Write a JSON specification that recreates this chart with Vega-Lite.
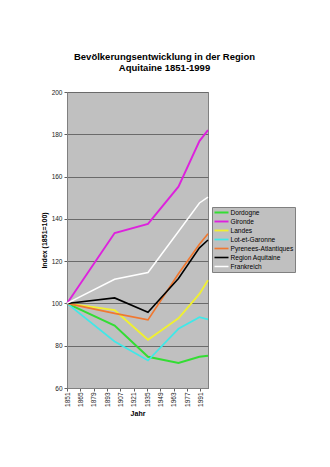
{
  "$schema": "https://vega.github.io/schema/vega-lite/v6.json",
  "width": 141,
  "height": 296,
  "autosize": {"type": "none"},
  "padding": {"left": 67, "top": 92, "right": 122, "bottom": 79},
  "background": "white",
  "title": {
    "text": ["Bevölkerungsentwicklung in der Region", "Aquitaine 1851-1999"],
    "font": "Liberation Sans",
    "fontSize": 9.5,
    "fontWeight": "bold",
    "color": "black",
    "anchor": "middle",
    "frame": "group",
    "dx": 27,
    "offset": 17,
    "lineHeight": 11
  },
  "data": {
    "values": [
      {"region": "Dordogne", "year": 1851, "index": 100},
      {"region": "Dordogne", "year": 1901, "index": 89.5},
      {"region": "Dordogne", "year": 1936, "index": 74.8},
      {"region": "Dordogne", "year": 1968, "index": 71.8},
      {"region": "Dordogne", "year": 1990, "index": 74.8},
      {"region": "Dordogne", "year": 1999, "index": 75.3},
      {"region": "Gironde", "year": 1851, "index": 100},
      {"region": "Gironde", "year": 1901, "index": 133.3},
      {"region": "Gironde", "year": 1936, "index": 137.6},
      {"region": "Gironde", "year": 1968, "index": 155.2},
      {"region": "Gironde", "year": 1990, "index": 176.8},
      {"region": "Gironde", "year": 1999, "index": 182},
      {"region": "Landes", "year": 1851, "index": 100},
      {"region": "Landes", "year": 1901, "index": 96.8},
      {"region": "Landes", "year": 1936, "index": 82.8},
      {"region": "Landes", "year": 1968, "index": 93},
      {"region": "Landes", "year": 1990, "index": 104.5},
      {"region": "Landes", "year": 1999, "index": 111},
      {"region": "Lot-et-Garonne", "year": 1851, "index": 100},
      {"region": "Lot-et-Garonne", "year": 1901, "index": 82},
      {"region": "Lot-et-Garonne", "year": 1936, "index": 73},
      {"region": "Lot-et-Garonne", "year": 1968, "index": 88},
      {"region": "Lot-et-Garonne", "year": 1990, "index": 93.5},
      {"region": "Lot-et-Garonne", "year": 1999, "index": 92.5},
      {"region": "Pyrenees-Atlantiques", "year": 1851, "index": 100},
      {"region": "Pyrenees-Atlantiques", "year": 1901, "index": 95.3},
      {"region": "Pyrenees-Atlantiques", "year": 1936, "index": 92.2},
      {"region": "Pyrenees-Atlantiques", "year": 1968, "index": 114},
      {"region": "Pyrenees-Atlantiques", "year": 1990, "index": 128},
      {"region": "Pyrenees-Atlantiques", "year": 1999, "index": 133},
      {"region": "Region Aquitaine", "year": 1851, "index": 100},
      {"region": "Region Aquitaine", "year": 1901, "index": 102.6},
      {"region": "Region Aquitaine", "year": 1936, "index": 95.8},
      {"region": "Region Aquitaine", "year": 1968, "index": 111.8},
      {"region": "Region Aquitaine", "year": 1990, "index": 126.3},
      {"region": "Region Aquitaine", "year": 1999, "index": 130},
      {"region": "Frankreich", "year": 1851, "index": 100},
      {"region": "Frankreich", "year": 1901, "index": 111.4},
      {"region": "Frankreich", "year": 1936, "index": 114.6},
      {"region": "Frankreich", "year": 1968, "index": 134},
      {"region": "Frankreich", "year": 1990, "index": 147.5},
      {"region": "Frankreich", "year": 1999, "index": 150.3}
    ]
  },
  "mark": {"type": "line", "clip": false},
  "encoding": {
    "x": {
      "field": "year",
      "type": "quantitative",
      "scale": {"domain": [1851, 1999], "nice": false, "zero": false},
      "axis": {
        "values": [1851, 1865, 1879, 1893, 1907, 1921, 1935, 1949, 1963, 1977, 1991],
        "format": "d",
        "labelAngle": -90,
        "labelPadding": 1,
        "title": "Jahr",
        "titlePadding": 3,
        "grid": false
      }
    },
    "y": {
      "field": "index",
      "type": "quantitative",
      "scale": {"domain": [60, 200], "nice": false, "zero": false},
      "axis": {
        "values": [60, 80, 100, 120, 140, 160, 180, 200],
        "title": "Index (1851=100)",
        "titlePadding": 4,
        "labelPadding": 2,
        "grid": true,
        "gridColor": "#6a6a6a",
        "gridOpacity": 1,
        "gridWidth": 1
      }
    },
    "color": {
      "field": "region",
      "type": "nominal",
      "scale": {
        "domain": ["Dordogne", "Gironde", "Landes", "Lot-et-Garonne", "Pyrenees-Atlantiques", "Region Aquitaine", "Frankreich"],
        "range": ["#33DD33", "#DD22DD", "#F0F030", "#40E8E8", "#F07830", "#000000", "#FFFFFF"]
      },
      "legend": {
        "orient": "none",
        "legendX": 145,
        "legendY": 115,
        "title": null,
        "fillColor": "#C0C0C0",
        "strokeColor": "#808080",
        "padding": 1.5,
        "symbolType": "M-1,0H3.667",
        "symbolSize": 36,
        "symbolStrokeWidth": 2.5,
        "labelFont": "Liberation Sans",
        "labelFontSize": 6.6,
        "labelColor": "black",
        "labelOffset": 9,
        "rowPadding": 1
      }
    },
    "strokeWidth": {
      "field": "region",
      "type": "nominal",
      "scale": {
        "domain": ["Dordogne", "Gironde", "Landes", "Lot-et-Garonne", "Pyrenees-Atlantiques", "Region Aquitaine", "Frankreich"],
        "range": [2, 1.5, 2, 2, 2, 2.5, 2]
      },
      "legend": null
    }
  },
  "config": {
    "view": {"fill": "#C0C0C0", "stroke": "#808080", "strokeWidth": 1},
    "axis": {
      "labelFont": "Liberation Sans",
      "labelFontSize": 6.5,
      "labelColor": "#222222",
      "titleFont": "Liberation Sans",
      "titleFontSize": 7,
      "titleFontWeight": "bold",
      "titleColor": "black",
      "tickColor": "#606060",
      "tickSize": 3,
      "domainColor": "#808080"
    }
  }
}
